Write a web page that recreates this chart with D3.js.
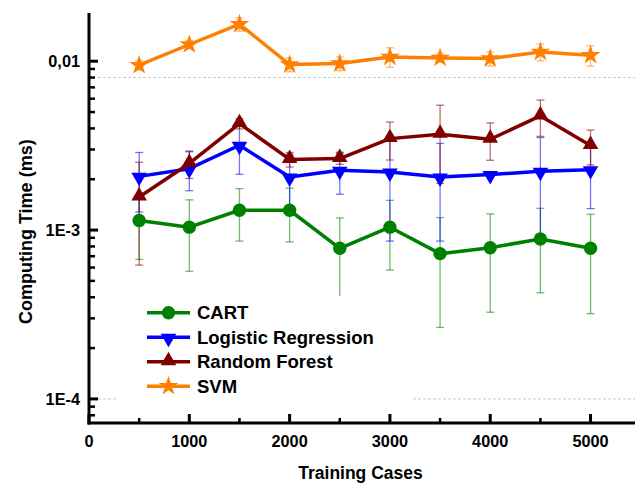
<!DOCTYPE html>
<html>
<head>
<meta charset="utf-8">
<script src="https://cdn.jsdelivr.net/npm/d3@7"></script>
<style>
  html, body { margin: 0; padding: 0; background: #fff; }
  svg { display: block; font-family: "Liberation Sans", Arial, sans-serif; font-weight: bold; }
</style>
</head>
<body>
<svg id="chart" width="635" height="483"></svg>
<script>
// Training set sizes
const trainingCases = [500, 1000, 1500, 2000, 2500, 3000, 3500, 4000, 4500, 5000];

// Mean computing time (ms) per classifier
const cartTime   = [0.00114, 0.00104, 0.00131, 0.00131, 0.00078, 0.00104, 0.000725, 0.000786, 0.000885, 0.00078];
const logRegTime = [0.00208, 0.00231, 0.00318, 0.00206, 0.00226, 0.00221, 0.00206, 0.00213, 0.00223, 0.00228];
const rfTime     = [0.00157, 0.00248, 0.00427, 0.00262, 0.00265, 0.00348, 0.00369, 0.00345, 0.00474, 0.00317];
const svmTime    = [0.00947, 0.01256, 0.01657, 0.00956, 0.00969, 0.01060, 0.01046, 0.01037, 0.01135, 0.01085];

// Standard deviations (ms)
const cartSd   = [0.00047, 0.00047, 0.00045, 0.00046, 0.00040, 0.00046, 0.00046, 0.00046, 0.00046, 0.00046];
const logRegSd = [0.00080, 0.00060, 0.00104, 0.00075, 0.00063, 0.00135, 0.00120, 0.00000, 0.00130, 0.00094];
const rfSd     = [0.00095, 0.00046, 0.00030, 0.00026, 0.00020, 0.00088, 0.00180, 0.00086, 0.00115, 0.00074];
const svmSd    = [0.00060, 0.00070, 0.00150, 0.00090, 0.00090, 0.00140, 0.00060, 0.00100, 0.00130, 0.00150];

// Axis ticks
const xTicks = [0, 1000, 2000, 3000, 4000, 5000];
const xMinorTicks = [500, 1500, 2500, 3500, 4500];
const yTicks = [0.0001, 0.001, 0.01];
const yTickLabels = ["1E-4", "1E-3", "0,01"];
const refLines = [0.0001, 0.008];

const series = [
  { name: "CART",                values: cartTime,   sd: cartSd,   color: "#008000", shape: "circle" },
  { name: "Logistic Regression", values: logRegTime, sd: logRegSd, color: "#0000ff", shape: "down" },
  { name: "Random Forest",       values: rfTime,     sd: rfSd,     color: "#800000", shape: "up" },
  { name: "SVM",                 values: svmTime,    sd: svmSd,    color: "#ff8000", shape: "star" }
];

const svg = d3.select("#chart");

const x = d3.scaleLinear().domain([0, 5500]).range([89, 640.7]);
const y = d3.scaleLog().domain([7.2e-5, 0.0193]).range([423, 13]);

function symbolPath(shape) {
  if (shape === "circle") return d3.symbol(d3.symbolCircle, 140)();
  if (shape === "star") return d3.symbol(d3.symbolStar, 120)();
  return d3.symbol(d3.symbolTriangle, 105)();
}
function symbolTransform(shape, px, py) {
  return shape === "down" ? `translate(${px},${py + 1}) rotate(180)` :
         shape === "up" ? `translate(${px},${py - 1})` : `translate(${px},${py})`;
}

// Dotted reference lines
svg.append("g").selectAll("line").data(refLines).join("line")
  .attr("x1", 98).attr("x2", 635)
  .attr("y1", d => y(d)).attr("y2", d => y(d))
  .attr("stroke", "#c8c8c8").attr("stroke-width", 1)
  .attr("stroke-dasharray", "3,2");

// Error bars
const floor = 7.3e-5;
series.forEach(s => {
  const g = svg.append("g").attr("stroke", s.color).attr("stroke-opacity", 0.55).attr("stroke-width", 1.3);
  trainingCases.forEach((c, i) => {
    if (!s.sd[i]) return;
    const px = x(c);
    const hi = y(s.values[i] + s.sd[i]);
    const lo = y(Math.max(s.values[i] - s.sd[i], floor));
    g.append("line").attr("x1", px).attr("x2", px).attr("y1", hi).attr("y2", lo);
    g.append("line").attr("x1", px - 4).attr("x2", px + 4).attr("y1", hi).attr("y2", hi);
    if (s.values[i] - s.sd[i] > floor)
      g.append("line").attr("x1", px - 4).attr("x2", px + 4).attr("y1", lo).attr("y2", lo);
  });
});

// Lines and markers
const line = d3.line().x(d => x(d[0])).y(d => y(d[1]));
series.forEach(s => {
  const pts = trainingCases.map((c, i) => [c, s.values[i]]);
  svg.append("path").datum(pts)
    .attr("d", line).attr("fill", "none")
    .attr("stroke", s.color).attr("stroke-width", 3.5).attr("stroke-linejoin", "round");
  svg.append("g").selectAll("path").data(pts).join("path")
    .attr("d", symbolPath(s.shape))
    .attr("transform", d => symbolTransform(s.shape, x(d[0]), y(d[1])))
    .attr("fill", s.color);
});

// Legend
const legend = svg.append("g");
legend.append("rect").attr("x", 117).attr("y", 296).attr("width", 296).attr("height", 108).attr("fill", "#fff");
series.forEach((s, i) => {
  const ly = 312.7 + i * 24.5;
  legend.append("line").attr("x1", 147).attr("x2", 190).attr("y1", ly).attr("y2", ly)
    .attr("stroke", s.color).attr("stroke-width", 3.5);
  legend.append("path").attr("d", symbolPath(s.shape))
    .attr("transform", symbolTransform(s.shape, 168.5, ly)).attr("fill", s.color);
  legend.append("text").attr("x", 197).attr("y", ly + 6.5)
    .attr("font-size", 18.5).attr("fill", "#000").text(s.name);
});

// Axes
const axes = svg.append("g").attr("stroke", "#000");
axes.append("line").attr("x1", 89).attr("x2", 89).attr("y1", 13).attr("y2", 424.5).attr("stroke-width", 3);
axes.append("line").attr("x1", 87.5).attr("x2", 635).attr("y1", 423).attr("y2", 423).attr("stroke-width", 3);

// Y ticks (inward), major and minor
const yMinor = [];
[1e-5, 1e-4, 1e-3].forEach(dec => { for (let k = 2; k <= 9; k++) yMinor.push(dec * k); });
axes.selectAll(".ymin").data(yMinor.filter(v => v > 7.2e-5 && v < 0.0193)).join("line")
  .attr("x1", 89).attr("x2", 95).attr("y1", d => y(d)).attr("y2", d => y(d)).attr("stroke-width", 2.5);
axes.selectAll(".ymaj").data(yTicks).join("line")
  .attr("x1", 89).attr("x2", 98).attr("y1", d => y(d)).attr("y2", d => y(d)).attr("stroke-width", 3);
svg.append("g").selectAll("text").data(yTicks).join("text")
  .attr("x", 80).attr("y", d => y(d) + 6).attr("text-anchor", "end")
  .attr("font-size", 16.3).text((d, i) => yTickLabels[i]);

// X ticks (inward)
axes.selectAll(".xmaj").data(xTicks).join("line")
  .attr("x1", d => x(d)).attr("x2", d => x(d)).attr("y1", 423).attr("y2", 414).attr("stroke-width", 3);
axes.selectAll(".xmin").data(xMinorTicks).join("line")
  .attr("x1", d => x(d)).attr("x2", d => x(d)).attr("y1", 423).attr("y2", 418).attr("stroke-width", 2.5);
svg.append("g").selectAll("text").data(xTicks).join("text")
  .attr("x", d => x(d)).attr("y", 446.5).attr("text-anchor", "middle")
  .attr("font-size", 16.3).text(d => d);

// Axis titles
svg.append("text").attr("x", 360.5).attr("y", 479).attr("text-anchor", "middle")
  .attr("font-size", 17.5).text("Training Cases");
svg.append("text").attr("transform", "translate(32,231.7) rotate(-90)").attr("text-anchor", "middle")
  .attr("font-size", 18).text("Computing Time (ms)");
</script>
</body>
</html>
